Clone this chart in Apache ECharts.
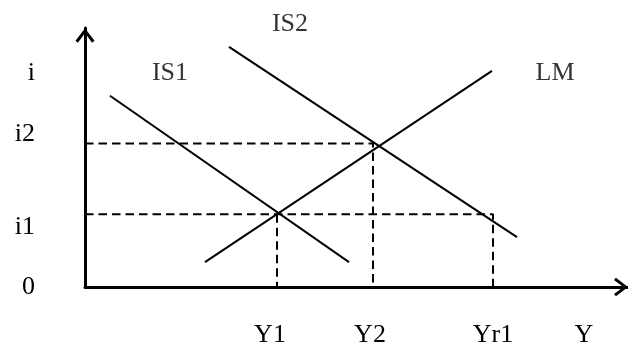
<!DOCTYPE html>
<html><head><meta charset="utf-8">
<script src="https://cdn.jsdelivr.net/npm/echarts@6/dist/echarts.min.js"></script>
<style>html,body{margin:0;padding:0;background:#fff}#c{width:628px;height:348px}</style>
</head><body><div id="c"></div>
<script>
// Axis tick labels (positions in chart units)
const xTickLabels = ['Y1', 'Y2', 'Yr1', 'Y'];
const xTickValues = [185, 285, 408, 499];
const yTickLabels = ['0', 'i1', 'i2', 'i'];
const yTickValues = [0, 60, 153, 215];

// Curves (endpoints in chart units)
const is1 = [[25, 192], [264, 25]];
const is2 = [[144, 241], [432, 50]];
const lm = [[120, 25], [407, 217]];

// Equilibrium levels
const i1 = 73, i2 = 144;
const Y1 = 192, Y2 = 288, Yr1 = 408;

// Curve name labels
const curveNames = ['IS1', 'IS2', 'LM'];
const curveLabelPos = [[85, 215], [205, 264], [470, 215]];

const FONT = "'Liberation Serif', 'Times New Roman', serif";
const chevron = 'path://M9.5,0 L19,12.4 L16.6,14.4 L9.5,4.8 L2.4,14.4 L0,12.4 Z';

const solid = { color: '#000', width: 2 };
const dashed = { color: '#000', width: 2, type: [8.5, 5] };

function lineSeries(data, style) {
  return { type: 'line', data: data, symbol: 'none', lineStyle: style, silent: true, animation: false, z: 3 };
}

const option = {
  backgroundColor: '#fff',
  animation: false,
  grid: { left: 85, right: 0, top: 28, bottom: 60 },
  xAxis: {
    type: 'value', min: 0, max: 543,
    splitLine: { show: false },
    axisTick: { show: false },
    axisLine: { lineStyle: { color: '#000', width: 3 }, symbol: ['none', chevron], symbolSize: [20, 14], symbolOffset: [0, -7] },
    axisLabel: {
      customValues: xTickValues,
      formatter: v => xTickLabels[xTickValues.indexOf(v)] || '',
      color: '#000', fontFamily: FONT, fontSize: 26, margin: 35
    }
  },
  yAxis: {
    type: 'value', min: 0, max: 260,
    splitLine: { show: false },
    axisTick: { show: false },
    axisLine: { lineStyle: { color: '#000', width: 3 }, symbol: ['none', chevron], symbolSize: [19, 15], symbolOffset: [0, -7.5] },
    axisLabel: {
      customValues: yTickValues,
      formatter: v => yTickLabels[yTickValues.indexOf(v)] || '',
      color: '#000', fontFamily: FONT, fontSize: 26, margin: 50
    }
  },
  series: [
    lineSeries(is1, solid),
    lineSeries(is2, solid),
    lineSeries(lm, solid),
    lineSeries([[0, i2], [Y2, i2], [Y2, 0]], dashed),
    lineSeries([[0, i1], [Yr1, i1], [Yr1, 0]], dashed),
    lineSeries([[Y1, i1], [Y1, 0]], dashed),
    {
      type: 'scatter', clip: false, silent: true, animation: false,
      symbolSize: 1, itemStyle: { color: 'rgba(0,0,0,0)' },
      data: curveNames.map((n, k) => ({ name: n, value: curveLabelPos[k] })),
      label: { show: true, position: 'inside', formatter: p => p.name, color: '#000', fontFamily: FONT, fontSize: 26 }
    }
  ]
};

const chart = echarts.init(document.getElementById('c'), null, { renderer: 'canvas' });
chart.setOption(option);
</script>
</body></html>
